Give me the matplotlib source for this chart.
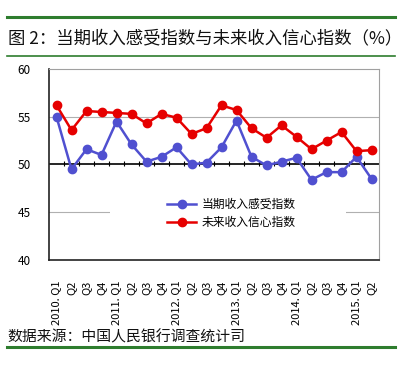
import numpy as np
import matplotlib.pyplot as plt
from matplotlib.lines import Line2D
from matplotlib.patches import Rectangle

plt.rcParams['font.family'] = ['Noto Sans CJK SC', 'DejaVu Sans']

quarters = ['2010. Q1', 'Q2', 'Q3', 'Q4',
            '2011. Q1', 'Q2', 'Q3', 'Q4',
            '2012. Q1', 'Q2', 'Q3', 'Q4',
            '2013. Q1', 'Q2', 'Q3', 'Q4',
            '2014. Q1', 'Q2', 'Q3', 'Q4',
            '2015. Q1', 'Q2']
current_income = [55.0, 49.5, 51.6, 51.0, 54.5, 52.1, 50.3, 50.8, 51.8, 50.0, 50.2,
                  51.8, 54.6, 50.8, 49.9, 50.3, 50.7, 48.4, 49.2, 49.2, 50.8, 48.5]
future_income = [56.2, 53.6, 55.6, 55.5, 55.4, 55.3, 54.3, 55.3, 54.9, 53.2, 53.8,
                 56.2, 55.7, 53.8, 52.8, 54.1, 52.9, 51.6, 52.5, 53.4, 51.4, 51.5]

W, H = 404, 371
fig = plt.figure(figsize=(W / 100, H / 100), dpi=100)

def fy(py):
    return 1 - py / H

# decorative rules
fig.add_artist(Line2D([7 / W, 395 / W], [fy(17), fy(17)], color='#2e7d2e', lw=2.2))
fig.add_artist(Line2D([7 / W, 395 / W], [fy(56), fy(56)], color='#2e7d2e', lw=1.2))
fig.add_artist(Line2D([7 / W, 395 / W], [fy(347), fy(347)], color='#2e7d2e', lw=2.2))

fig.text(8 / W, fy(38), '图 2：当期收入感受指数与未来收入信心指数（%）',
         fontsize=12.5, va='center', ha='left', color='#111111')
fig.text(7 / W, fy(337), '数据来源：中国人民银行调查统计司',
         fontsize=10.7, va='center', ha='left', color='#111111')

ax = fig.add_axes([49 / W, fy(260), 330 / W, (260 - 69) / H])
x = np.arange(len(quarters))

for v in [45, 55]:
    ax.axhline(v, color='#b0b0b0', lw=0.8, zorder=1)
ax.axhline(50, color='black', lw=1.2, zorder=2)
ax.vlines(x[:-1] + 0.5, 49.85, 50.35, color='black', lw=0.8, zorder=2)

# white legend box (covers the 45 gridline)
ax.add_patch(Rectangle((0.185, 0.13), 0.715, 0.21, transform=ax.transAxes,
                       facecolor='white', edgecolor='none', zorder=1.5))

ax.plot(x, current_income, color='#5050d0', lw=1.8, marker='o', ms=6,
        label='当期收入感受指数', zorder=4)
ax.plot(x, future_income, color='#e60000', lw=1.8, marker='o', ms=6,
        label='未来收入信心指数', zorder=4)

ax.set_xlim(-0.5, len(quarters) - 0.5)
ax.set_ylim(40, 60)
ax.set_yticks([40, 45, 50, 55, 60])
ax.tick_params(axis='y', length=0, pad=13, labelsize=8.5)
ax.set_xticks(x)
ax.set_xticklabels(quarters, rotation=90, fontsize=8, va='top', ha='center')
ax.tick_params(axis='x', length=0, pad=15)

for s in ['top', 'right']:
    ax.spines[s].set_color('#a0a0a0')
    ax.spines[s].set_linewidth(0.8)
for s in ['left', 'bottom']:
    ax.spines[s].set_color('#222222')
    ax.spines[s].set_linewidth(1.2)

leg = ax.legend(loc='center left', bbox_to_anchor=(0.357, 0.2435), frameon=False,
                fontsize=8.5, handlelength=2.5, borderpad=0, labelspacing=0.4,
                handletextpad=0.42, borderaxespad=0)
leg.set_zorder(3)

fig.savefig('out.png', dpi=100)
